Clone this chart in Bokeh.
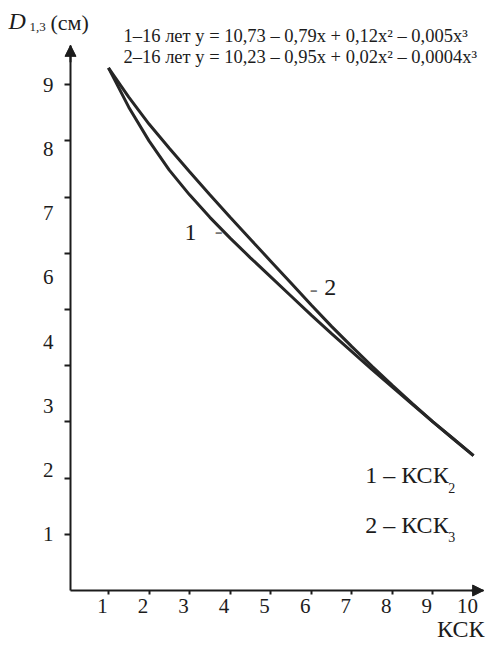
import numpy as np
from bokeh.plotting import figure
from bokeh.models import (Range1d, LinearAxis, FixedTicker, CustomJSTickFormatter,
                          Label, Arrow, NormalHead)
from bokeh.embed import file_html
from bokeh.resources import INLINE

# ---- data ----
x_values = [1, 1.5, 2, 2.5, 3, 3.5, 4, 4.5, 5, 5.5, 6, 6.5, 7, 7.5, 8, 8.5, 9, 9.5, 10]
series_ksk2 = [9.30, 8.60, 8.00, 7.48, 7.04, 6.64, 6.27, 5.92, 5.58, 5.24,
               4.90, 4.57, 4.25, 3.93, 3.62, 3.31, 3.00, 2.70, 2.40]
series_ksk3 = [9.30, 8.78, 8.30, 7.87, 7.45, 7.04, 6.64, 6.25, 5.86, 5.47,
               5.08, 4.70, 4.34, 3.99, 3.65, 3.32, 3.00, 2.70, 2.40]

x_ticks = [1, 2, 3, 4, 5, 6, 7, 8, 9, 10]
x_tick_labels = ["1", "2", "3", "4", "5", "6", "7", "8", "9", "10"]
y_ticks = [1, 2, 3, 4, 5, 6, 7, 8, 9]
y_tick_labels = ["1", "2", "3", "4", "6", "7", "8", "9"]

equation_1 = "1–16 лет y = 10,73 – 0,79x + 0,12x² – 0,005x³"
equation_2 = "2–16 лет y = 10,23 – 0,95x + 0,02x² – 0,0004x³"
y_title_main, y_title_sub, y_title_unit = "D", "1,3", "(см)"
x_title = "КСК"
legend_texts = ["1 – КСК", "2 – КСК"]
legend_subs = ["2", "3"]
curve_names = ["1", "2"]

FONT = "Liberation Serif"
INK = "#1c1c1c"

# the frame covers the whole canvas; axes sit at fixed locations inside it
XS, XE = -1.662, 10.345
YS, YE = -0.996, 10.498
AX_X = 0.064           # where the vertical axis stands
AX_Y = 0.0             # where the horizontal axis stands
Y_TOP = 9.70           # tip of the vertical arrow
X_RIGHT = 10.25        # tip of the horizontal arrow
X_LABEL_SHIFT = -0.15  # tick numbers sit a little left of their ticks

p = figure(width=487, height=646, output_backend="svg", toolbar_location=None,
           x_range=Range1d(XS, XE), y_range=Range1d(YS, YE),
           x_axis_location=None, y_axis_location=None, title=None,
           min_border_left=0, min_border_right=0, min_border_top=0,
           min_border_bottom=0)
p.outline_line_color = None
p.grid.visible = False
p.background_fill_color = "white"

blank = CustomJSTickFormatter(code="return ''")

# y axis: line and ticks
y_tick_axis = LinearAxis(fixed_location=AX_X, bounds=(AX_Y, Y_TOP),
                         ticker=FixedTicker(ticks=y_ticks), formatter=blank,
                         major_tick_out=6, major_tick_in=0, minor_tick_out=0, minor_tick_in=0,
                         major_label_standoff=0, axis_line_width=2, axis_line_color=INK,
                         major_tick_line_width=2, major_tick_line_color=INK)
p.add_layout(y_tick_axis, "left")

# y axis: labels only (spread evenly as in the original)
label_pos = [float(v) for v in np.linspace(y_ticks[0], y_ticks[-1], len(y_tick_labels))]
y_label_axis = LinearAxis(fixed_location=AX_X, ticker=FixedTicker(ticks=label_pos),
                          formatter=CustomJSTickFormatter(args=dict(labels=y_tick_labels),
                                                          code="return labels[index]"),
                          axis_line_color=None, major_tick_line_color=None,
                          minor_tick_line_color=None, major_tick_out=0, major_tick_in=0,
                          minor_tick_out=0, minor_tick_in=0, major_label_standoff=17,
                          major_label_text_font=FONT, major_label_text_font_size="21px",
                          major_label_text_color=INK)
p.add_layout(y_label_axis, "left")

# x axis: line and ticks
x_tick_axis = LinearAxis(fixed_location=AX_Y, bounds=(AX_X, X_RIGHT),
                         ticker=FixedTicker(ticks=x_ticks), formatter=blank,
                         major_tick_out=4, major_tick_in=0, minor_tick_out=0, minor_tick_in=0,
                         major_label_standoff=0, axis_line_width=2, axis_line_color=INK,
                         major_tick_line_width=2, major_tick_line_color=INK)
p.add_layout(x_tick_axis, "below")

# x axis: labels only
x_label_pos = [t + X_LABEL_SHIFT for t in x_ticks]
x_label_axis = LinearAxis(fixed_location=AX_Y, ticker=FixedTicker(ticks=x_label_pos),
                          formatter=CustomJSTickFormatter(args=dict(labels=x_tick_labels),
                                                          code="return labels[index]"),
                          axis_line_color=None, major_tick_line_color=None,
                          minor_tick_line_color=None, major_tick_out=0, major_tick_in=0,
                          minor_tick_out=0, minor_tick_in=0, major_label_standoff=8,
                          major_label_text_font=FONT, major_label_text_font_size="21px",
                          major_label_text_color=INK)
p.add_layout(x_label_axis, "below")

# arrow heads on the axes
p.add_layout(Arrow(end=NormalHead(size=11, fill_color=INK, line_color=INK),
                   x_start=AX_X, y_start=Y_TOP - 0.3, x_end=AX_X, y_end=Y_TOP,
                   line_color=INK, line_width=2))
p.add_layout(Arrow(end=NormalHead(size=11, fill_color=INK, line_color=INK),
                   x_start=X_RIGHT - 0.3, y_start=AX_Y, x_end=X_RIGHT, y_end=AX_Y,
                   line_color=INK, line_width=2))

# curves
p.line(x_values, series_ksk2, line_width=3, line_color="#262626")
p.line(x_values, series_ksk3, line_width=3, line_color="#262626")

def lab(x, y, text, size, style="normal", color=INK, align="left"):
    p.add_layout(Label(x=x, y=y, text=text, text_font=FONT, text_font_size=size,
                       text_font_style=style, text_color=color, text_baseline="middle",
                       text_align=align))

# y title
lab(-1.464, 10.14, y_title_main, "24px", style="italic")
lab(-0.947, 10.03, y_title_sub, "13px")
lab(-0.429, 10.11, y_title_unit, "22px")

# equations
lab(1.371, 9.86, equation_1, "18.5px")
lab(1.371, 9.50, equation_2, "18.5px")

# curve labels with leader dashes
lab(3.02, 6.37, curve_names[0], "24px", align="center")
lab(3.62, 6.38, "-", "24px", color="#777777")
lab(6.47, 5.39, curve_names[1], "24px", align="center")
lab(5.96, 5.36, "-", "24px", color="#777777")

# legend
lab(7.33, 2.05, legend_texts[0], "24px")
lab(9.38, 1.83, legend_subs[0], "14px")
lab(7.33, 1.17, legend_texts[1], "24px")
lab(9.38, 0.96, legend_subs[1], "14px")

# x title at the lower right corner
lab(9.10, -0.68, x_title, "24px")

open("out.html", "w").write(file_html(p, INLINE))
